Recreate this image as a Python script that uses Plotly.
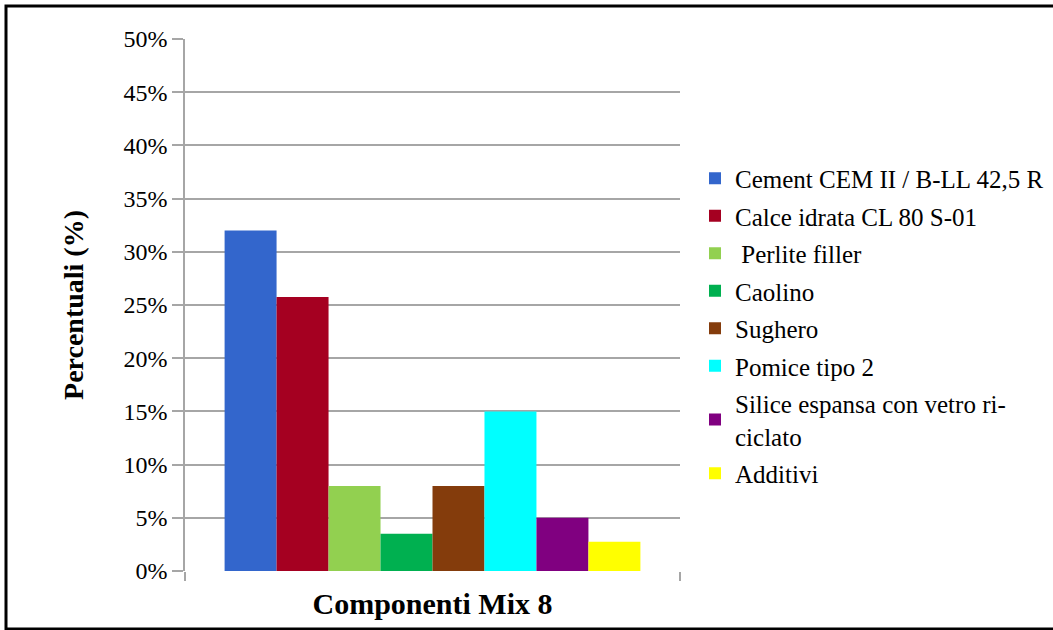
import plotly.graph_objects as go

# Mix 8 composition
components = [
    "Cement CEM II / B-LL 42,5 R",
    "Calce idrata CL 80 S-01",
    " Perlite filler",
    "Caolino",
    "Sughero",
    "Pomice tipo 2",
    "Silice espansa con vetro ri-<br>ciclato",
    "Additivi",
]
percentages = [0.32, 0.2575, 0.08, 0.035, 0.08, 0.15, 0.05, 0.0275]
colors = ["#3366CC", "#A50021", "#92D050", "#00B050",
          "#843C0C", "#00FFFF", "#800080", "#FFFF00"]

W, H = 1053, 630
L, T, B = 185, 39, 59
PLOT_RIGHT = 680
pw_all = W - L            # paper width (no right margin)
ph = H - T - B
xdom = (PLOT_RIGHT - L) / pw_all

fig = go.Figure()
for i, (name, val, col) in enumerate(zip(components, percentages, colors)):
    fig.add_trace(go.Bar(
        x=[0], y=[val], name=name, marker=dict(color=col, line=dict(width=0)),
        legendgroup=f"g{i}",
    ))

serif = "Liberation Serif, Times New Roman, serif"

fig.update_layout(
    width=W, height=H,
    margin=dict(l=L, r=0, t=T, b=B, pad=0),
    paper_bgcolor="white", plot_bgcolor="white",
    barmode="group", bargap=0.16, bargroupgap=0,
    font=dict(family=serif, size=24, color="black"),
    xaxis=dict(
        domain=[0, xdom],
        range=[-0.5, 0.5], tickvals=[-0.5, 0.5], showticklabels=False,
        ticks="outside", ticklen=9, tickcolor="#a6a6a6", tickwidth=1.5,
        showgrid=False, zeroline=False, showline=False,
        title=dict(text="<b>Componenti Mix 8</b>", font=dict(size=30), standoff=12),
        fixedrange=True,
    ),
    yaxis=dict(
        range=[0, 0.5], dtick=0.05, tickformat=".0%",
        ticks="outside", ticklen=11, tickcolor="#a6a6a6", tickwidth=1.5,
        showgrid=True, gridcolor="#a6a6a6", gridwidth=1.5,
        showline=True, linecolor="#a6a6a6", linewidth=1.5,
        zeroline=False,
        tickfont=dict(size=24),
        title=dict(text="<b>Percentuali (%)</b>", font=dict(size=28), standoff=32),
        fixedrange=True,
    ),
    legend=dict(
        x=(695 - L) / pw_all, xanchor="left",
        y=(571 - 326) / ph, yanchor="middle",
        font=dict(size=25), tracegroupgap=2,
        bgcolor="rgba(0,0,0,0)", itemclick=False,
    ),
    showlegend=True,
)

# outer frame
fig.add_shape(
    type="rect", xref="paper", yref="paper",
    x0=(6 - L) / pw_all, x1=(1070 - L) / pw_all,
    y0=(571 - 629) / ph, y1=(571 - 6) / ph,
    line=dict(color="black", width=3), fillcolor="rgba(0,0,0,0)", layer="above",
)

fig.write_html("out.html", config={"displayModeBar": False})
